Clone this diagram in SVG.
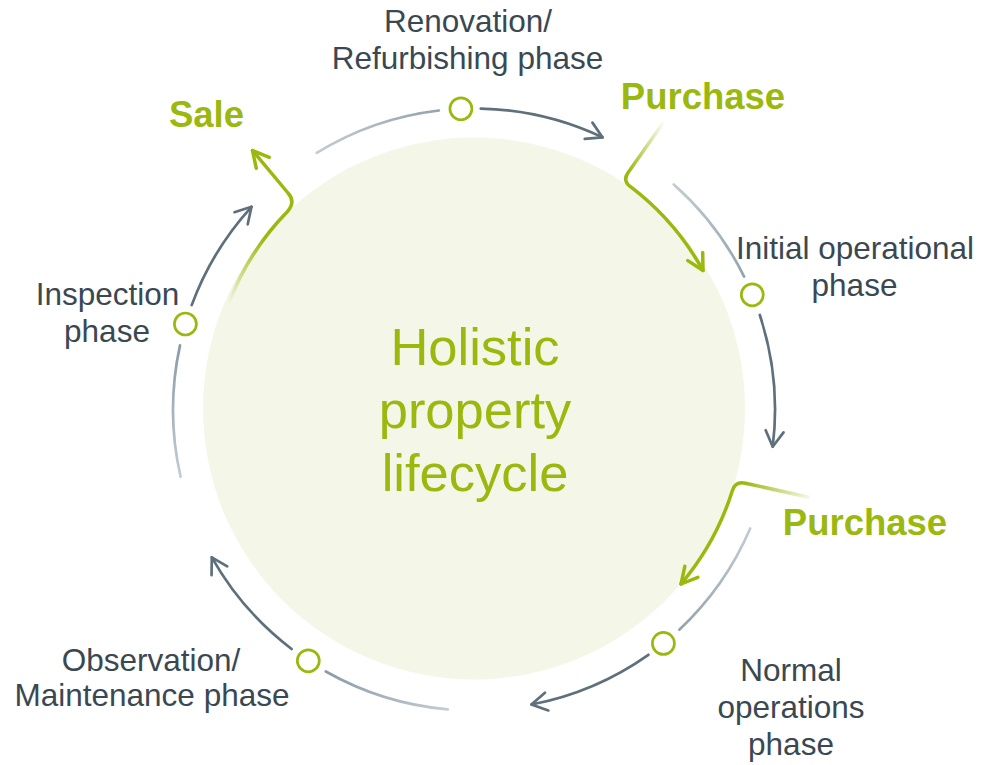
<svg xmlns="http://www.w3.org/2000/svg" width="981" height="765" viewBox="0 0 981 765">
<style>
.lbl{font-family:"Liberation Sans",Arial,sans-serif;font-size:31.5px;fill:#3a4852;text-anchor:middle}
.key{font-family:"Liberation Sans",Arial,sans-serif;font-size:36.5px;font-weight:bold;fill:#9bb80f;text-anchor:middle}
.hub{font-family:"Liberation Sans",Arial,sans-serif;font-size:52.5px;fill:#9bb80f;text-anchor:middle}
.dot{fill:#ffffff;stroke:#9bb80f;stroke-width:2.7}
.arw{fill:none;stroke:#5e707c;stroke-width:2.7;stroke-linecap:round;marker-end:url(#ag)}
.tail{fill:none;stroke-width:2.7;stroke-linecap:round}
.grn{fill:none;stroke-width:3.5;stroke-linecap:round;stroke-linejoin:round;marker-end:url(#agr)}
</style>
<defs>
<marker id="ag" markerUnits="userSpaceOnUse" markerWidth="40" markerHeight="40" viewBox="-20 -20 40 40" refX="0" refY="0" orient="auto" overflow="visible">
<path d="M -15.5 -9 L 0 0 L -15.5 9" fill="none" stroke="#5e707c" stroke-width="2.7" stroke-linecap="round" stroke-linejoin="round"/>
</marker>
<marker id="agr" markerUnits="userSpaceOnUse" markerWidth="40" markerHeight="40" viewBox="-20 -20 40 40" refX="0" refY="0" orient="auto" overflow="visible">
<path d="M -16 -8.5 L 0 0 L -16 8.5" fill="none" stroke="#9bb80f" stroke-width="3.5" stroke-linecap="round" stroke-linejoin="round"/>
</marker>
<linearGradient id="gA" gradientUnits="userSpaceOnUse" x1="316.7" y1="152.9" x2="438.9" y2="110.5"><stop offset="0" stop-color="#c3ccd2"/><stop offset="1" stop-color="#94a3ad"/></linearGradient>
<linearGradient id="gB" gradientUnits="userSpaceOnUse" x1="673.8" y1="184.4" x2="744.1" y2="276.6"><stop offset="0" stop-color="#c3ccd2"/><stop offset="1" stop-color="#94a3ad"/></linearGradient>
<linearGradient id="gC" gradientUnits="userSpaceOnUse" x1="750.2" y1="528.5" x2="679.3" y2="629.7"><stop offset="0" stop-color="#c3ccd2"/><stop offset="1" stop-color="#94a3ad"/></linearGradient>
<linearGradient id="gD" gradientUnits="userSpaceOnUse" x1="447.8" y1="709.4" x2="325.8" y2="671.5"><stop offset="0" stop-color="#c3ccd2"/><stop offset="1" stop-color="#8b9ba6"/></linearGradient>
<linearGradient id="gE" gradientUnits="userSpaceOnUse" x1="180.6" y1="476.7" x2="180" y2="345.4"><stop offset="0" stop-color="#c3ccd2"/><stop offset="1" stop-color="#8b9ba6"/></linearGradient>
<linearGradient id="gP1" gradientUnits="userSpaceOnUse" x1="663" y1="123" x2="628" y2="173"><stop offset="0" stop-color="#9bb80f" stop-opacity="0.05"/><stop offset="1" stop-color="#9bb80f"/></linearGradient>
<linearGradient id="gP2" gradientUnits="userSpaceOnUse" x1="808" y1="497" x2="745" y2="483"><stop offset="0" stop-color="#9bb80f" stop-opacity="0.12"/><stop offset="1" stop-color="#9bb80f"/></linearGradient>
<linearGradient id="gS" gradientUnits="userSpaceOnUse" x1="228" y1="305" x2="268" y2="240"><stop offset="0" stop-color="#9bb80f" stop-opacity="0"/><stop offset="1" stop-color="#9bb80f"/></linearGradient>
</defs>
<rect width="981" height="765" fill="#ffffff"/>

<g id="hub">
<circle cx="474" cy="408.5" r="271" fill="#f4f7e7"/>
<text class="hub" x="475" y="365">Holistic</text>
<text class="hub" x="475" y="428">property</text>
<text class="hub" x="475" y="491">lifecycle</text>
</g>

<g id="connectors">
<path class="tail" stroke="url(#gA)" d="M 316.7 152.9 A 301 301 0 0 1 438.9 110.5"/>
<path class="arw" d="M 480.8 108.6 A 301 301 0 0 1 602.6 137.4"/>
<path class="tail" stroke="url(#gB)" d="M 673.8 184.4 A 301 301 0 0 1 744.1 276.6"/>
<path class="arw" d="M 759.8 315 A 301 301 0 0 1 772.7 446.7"/>
<path class="tail" stroke="url(#gC)" d="M 750.2 528.5 A 301 301 0 0 1 679.3 629.7"/>
<path class="arw" d="M 648.4 654.8 A 301 301 0 0 1 531.4 704.5"/>
<path class="tail" stroke="url(#gD)" d="M 447.8 709.4 A 301 301 0 0 1 325.8 671.5"/>
<path class="arw" d="M 291.6 649 A 301 301 0 0 1 211.8 557.3"/>
<path class="tail" stroke="url(#gE)" d="M 180.6 476.7 A 301 301 0 0 1 180 345.4"/>
<path class="arw" d="M 191.7 305.1 A 301 301 0 0 1 251.5 206.8"/>
<path class="grn" stroke="url(#gP1)" d="M 663 123 L 628 172.7 Q 622.3 180.9 630.5 186.7 A 270 270 0 0 1 703 270.5"/>
<path class="grn" stroke="url(#gP2)" d="M 808 497 L 745.3 483.2 Q 735.5 481 732.4 490.5 A 270 270 0 0 1 681 584"/>
<path class="grn" stroke="url(#gS)" d="M 228 305 A 270 270 0 0 1 287.5 211.5 Q 296 202 288 193 L 252.5 150.5"/>
</g>

<g id="renovation">
<circle class="dot" cx="460.9" cy="108.8" r="11"/>
<text class="lbl" x="468" y="32">Renovation/</text>
<text class="lbl" x="467.5" y="68.5">Refurbishing phase</text>
</g>
<g id="initial">
<circle class="dot" cx="752.3" cy="294.8" r="11"/>
<text class="lbl" x="855" y="258.5">Initial operational</text>
<text class="lbl" x="854.5" y="296">phase</text>
</g>
<g id="normal">
<circle class="dot" cx="663.4" cy="643.4" r="11"/>
<text class="lbl" x="791" y="681">Normal</text>
<text class="lbl" x="791" y="718">operations</text>
<text class="lbl" x="791" y="755">phase</text>
</g>
<g id="observation">
<circle class="dot" cx="308.3" cy="660.8" r="11"/>
<text class="lbl" x="151" y="670.5">Observation/</text>
<text class="lbl" x="152" y="706">Maintenance phase</text>
</g>
<g id="inspection">
<circle class="dot" cx="185.4" cy="324" r="11"/>
<text class="lbl" x="107.5" y="305">Inspection</text>
<text class="lbl" x="107" y="341.5">phase</text>
</g>
<g id="purchase-1">
<text class="key" x="703" y="108.5">Purchase</text>
</g>
<g id="purchase-2">
<text class="key" x="865" y="535">Purchase</text>
</g>
<g id="sale">
<text class="key" x="206.5" y="126.7">Sale</text>
</g>
</svg>
